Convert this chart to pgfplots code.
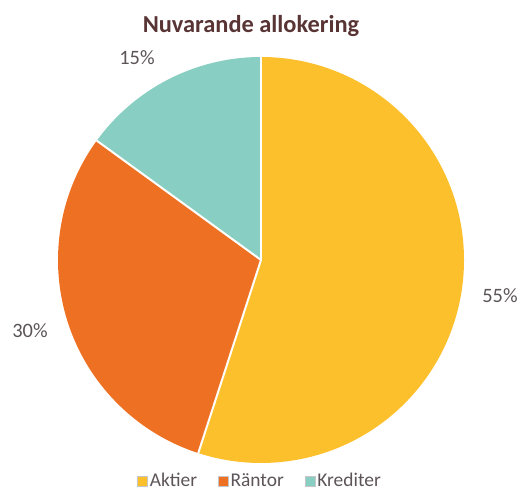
\documentclass[border=0pt]{standalone}
\usepackage{pgfplots}
\usepackage{pgfplotstable}
\pgfplotsset{compat=1.18}
\usepackage{fontspec}
\setmainfont{Carlito}

\definecolor{aktier}{RGB}{252,192,45}
\definecolor{rantor}{RGB}{238,112,35}
\definecolor{krediter}{RGB}{137,206,194}
\definecolor{titlecol}{RGB}{89,52,52}
\definecolor{labelcol}{RGB}{92,84,88}

% andel i procent
\pgfplotstableread{
label value
Aktier 55
Räntor 30
Krediter 15
}\piedata

\pgfplotstablegetelem{0}{value}\of\piedata \let\vA\pgfplotsretval
\pgfplotstablegetelem{1}{value}\of\piedata \let\vB\pgfplotsretval
\pgfplotstablegetelem{2}{value}\of\piedata \let\vC\pgfplotsretval
% vinklar, medurs fran kl 12
\pgfmathsetmacro{\sA}{90}
\pgfmathsetmacro{\eA}{\sA-3.6*\vA}
\pgfmathsetmacro{\eB}{\eA-3.6*\vB}
\pgfmathsetmacro{\eC}{\eB-3.6*\vC}

\begin{document}
\begin{tikzpicture}
\begin{axis}[
  scale only axis, width=521bp, height=488bp,
  xmin=0, xmax=521, ymin=0, ymax=488,
  hide axis, clip=false,
  legend style={at={(0.499,0.0145)}, anchor=center, draw=none, fill=none,
    legend columns=-1, font=\fontsize{19.5}{21}\selectfont, text=labelcol,
    /tikz/every even column/.append style={column sep=19bp}},
  legend image code/.code={\draw[#1, draw=gray!45, line width=0.6bp] (0bp,-5bp) rectangle (10bp,5bp);},
]
\path (axis cs:0,0) rectangle (axis cs:521,488);
\fill[aktier] (axis cs:261,228) -- ++(\sA:203bp) arc[start angle=\sA, end angle=\eA, radius=203bp] -- cycle;
\fill[rantor] (axis cs:261,228) -- ++(\eA:203bp) arc[start angle=\eA, end angle=\eB, radius=203bp] -- cycle;
\fill[krediter] (axis cs:261,228) -- ++(\eB:203bp) arc[start angle=\eB, end angle=\eC, radius=203bp] -- cycle;
\draw[white, line width=2bp] (axis cs:261,228) -- ++(\sA:203bp);
\draw[white, line width=2bp] (axis cs:261,228) -- ++(\eA:203bp);
\draw[white, line width=2bp] (axis cs:261,228) -- ++(\eB:203bp);

\node[text=labelcol, font=\fontsize{20.5}{22}\selectfont] at (axis cs:500,192) {55\%};
\node[text=labelcol, font=\fontsize{20.5}{22}\selectfont] at (axis cs:30,157) {30\%};
\node[text=labelcol, font=\fontsize{20.5}{22}\selectfont] at (axis cs:137,430) {15\%};
\node[text=titlecol, font=\bfseries\fontsize{24.5}{26}\selectfont] at (axis cs:251,462) {Nuvarande allokering};

\addlegendimage{fill=aktier}
\addlegendentry{Aktier}
\addlegendimage{fill=rantor}
\addlegendentry{Räntor}
\addlegendimage{fill=krediter}
\addlegendentry{Krediter}
\end{axis}
\end{tikzpicture}
\end{document}
